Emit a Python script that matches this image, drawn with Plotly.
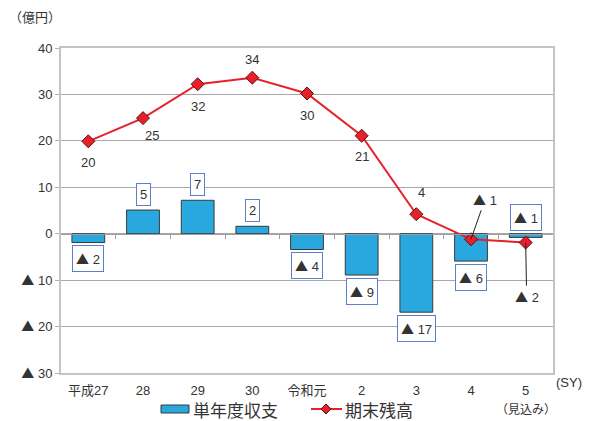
import plotly.graph_objects as go

# ---- data ----
categories = ["平成27", "28", "29", "30", "令和元", "2", "3", "4", "5"]
annual_balance = [-1.9, 5.1, 7.2, 1.6, -3.4, -8.9, -16.9, -5.9, -0.8]
annual_labels = ["▲ 2", "5", "7", "2", "▲ 4", "▲ 9", "▲ 17", "▲ 6", "▲ 1"]
ending_balance = [19.9, 24.9, 32.2, 33.6, 30.2, 21.1, 4.2, -1.2, -1.9]
ending_labels = ["20", "25", "32", "34", "30", "21", "4", "▲ 1", "▲ 2"]
ytick_vals = [40, 30, 20, 10, 0, -10, -20, -30]
ytick_text = ["40", "30", "20", "10", "0", "▲ 10", "▲ 20", "▲ 30"]
series_names = ["単年度収支", "期末残高"]

FONT = "Liberation Sans, Noto Sans CJK JP, sans-serif"
JFONT = "Noto Sans CJK JP, sans-serif"
TXT = "#333333"
BAR_COLOR = "#29a8e0"
LINE_COLOR = "#e8202a"

# page offset of the plot div (browser body margin)
OX, OY = 8, 8
PAGE_W, PAGE_H = 593, 421
W, H = PAGE_W - OX, PAGE_H - OY
# plot area in page pixels
PX0, PX1, PY0, PY1 = 61, 553, 48, 373
ML, MR, MT, MB = PX0 - OX, PAGE_W - PX1, PY0 - OY, PAGE_H - PY1
PW, PH = PX1 - PX0, PY1 - PY0


def px(xp):
    return (xp - PX0) / PW


def py(yp):
    return (PY1 - yp) / PH


def tri(s):
    # render the ▲ sign with the Japanese font (full-size triangle)
    return s.replace("▲", "<span style='font-family:Noto Sans CJK JP'>▲</span>")


xs = list(range(len(categories)))

fig = go.Figure()
fig.add_trace(go.Bar(
    x=xs, y=annual_balance, name=series_names[0],
    marker=dict(color=BAR_COLOR, line=dict(color="#3a3a3a", width=1)),
    width=0.6, showlegend=False,
))
fig.add_trace(go.Scatter(
    x=xs, y=ending_balance, name=series_names[1], mode="lines+markers",
    line=dict(color=LINE_COLOR, width=2),
    marker=dict(symbol="diamond", size=10, color=LINE_COLOR,
                line=dict(color="#5a1010", width=1)),
    showlegend=False,
))
# dummy trace for the zero-line tick axis
fig.add_trace(go.Scatter(x=[0], y=[0], xaxis="x2", mode="markers",
                         marker=dict(opacity=0), hoverinfo="skip",
                         showlegend=False))

# bar value labels in boxes
for i, (v, t) in enumerate(zip(annual_balance, annual_labels)):
    if i == len(annual_balance) - 1:
        yv, ys = 0, 16
    else:
        yv, ys = v, (16 if v >= 0 else -16)
    fig.add_annotation(
        x=i, y=yv, text=tri(t), showarrow=False, yshift=ys,
        xanchor="center", yanchor="middle",
        font=dict(family=FONT, size=13, color=TXT),
        bordercolor="#5b7fc9", borderwidth=1, borderpad=3, bgcolor="white",
    )

# line value labels (offsets in px)
line_offsets = [(0, 21), (9, 17), (0, 22), (0, -18), (0, 22), (0, 21), (5, -22)]
for i, (dx, dy) in enumerate(line_offsets):
    fig.add_annotation(
        x=i, y=ending_balance[i], text=tri(ending_labels[i]), showarrow=False,
        xshift=dx, yshift=-dy, xanchor="center", yanchor="middle",
        font=dict(family=FONT, size=13, color=TXT),
    )
# leader-line labels
for i, (ax, ay) in [(7, (14, -40)), (8, (1, 54))]:
    fig.add_annotation(
        x=i, y=ending_balance[i], text=tri(ending_labels[i]), showarrow=True,
        ax=ax, ay=ay, arrowhead=0, arrowwidth=1, arrowcolor="#222222",
        standoff=0, startstandoff=0, xanchor="center", yanchor="middle",
        font=dict(family=FONT, size=13, color=TXT),
    )


def paper_text(x, y, text, size, family=JFONT, anchor="center"):
    fig.add_annotation(xref="paper", yref="paper", x=px(x), y=py(y),
                       xanchor=anchor, yanchor="middle", text=text,
                       showarrow=False,
                       font=dict(family=family, size=size, color=TXT))


# unit / extra labels
paper_text(35, 17, "（億円）", 13)
paper_text(569, 383, "(SY)", 13, FONT)
paper_text(526, 408, "（見込み）", 12)

# custom legend
LEG_Y = 409
fig.add_shape(type="rect", xref="paper", yref="paper",
              x0=px(161), x1=px(189), y0=py(LEG_Y + 4), y1=py(LEG_Y - 4),
              fillcolor=BAR_COLOR, line=dict(color="#3a3a3a", width=1))
paper_text(191, LEG_Y, series_names[0], 17, anchor="left")
fig.add_shape(type="line", xref="paper", yref="paper",
              x0=px(311), x1=px(342), y0=py(LEG_Y), y1=py(LEG_Y),
              line=dict(color=LINE_COLOR, width=2))
fig.add_shape(type="path", xref="paper", yref="paper",
              path=(f"M {px(326)},{py(LEG_Y - 5)} L {px(331)},{py(LEG_Y)} "
                    f"L {px(326)},{py(LEG_Y + 5)} L {px(321)},{py(LEG_Y)} Z"),
              fillcolor=LINE_COLOR, line=dict(color="#5a1010", width=1))
paper_text(343, LEG_Y, series_names[1], 17, anchor="left")

fig.update_layout(
    width=W, height=H,
    margin=dict(l=ML, r=MR, t=MT, b=MB),
    paper_bgcolor="white", plot_bgcolor="white",
    font=dict(family=FONT, size=13, color=TXT),
    bargap=0.4,
    xaxis=dict(
        range=[-0.5, len(categories) - 0.5],
        tickvals=xs, ticktext=categories,
        tickfont=dict(family=FONT, size=13, color=TXT),
        showgrid=False, zeroline=False,
        showline=True, linecolor="#c4c4c4", linewidth=2, mirror=True,
        ticks="", ticklabelstandoff=4,
    ),
    xaxis2=dict(
        range=[-0.5, len(categories) - 0.5], overlaying="x",
        anchor="free", position=30 / 70, side="bottom",
        tickvals=[i + 0.5 for i in xs[:-1]], showticklabels=False,
        ticks="outside", ticklen=4, tickcolor="#a0a0a0",
        showline=True, linecolor="#a0a0a0", linewidth=1,
        showgrid=False, zeroline=False,
    ),
    yaxis=dict(
        range=[-30, 40], tickvals=ytick_vals,
        ticktext=[tri(t) for t in ytick_text],
        tickfont=dict(family=FONT, size=13, color=TXT),
        showgrid=True, gridcolor="#a8a8a8", gridwidth=1,
        zeroline=False,
        showline=True, linecolor="#c4c4c4", linewidth=2, mirror=True,
        ticks="outside", ticklen=4, tickcolor="#b0b0b0",
    ),
)

fig.write_html("out.html")
